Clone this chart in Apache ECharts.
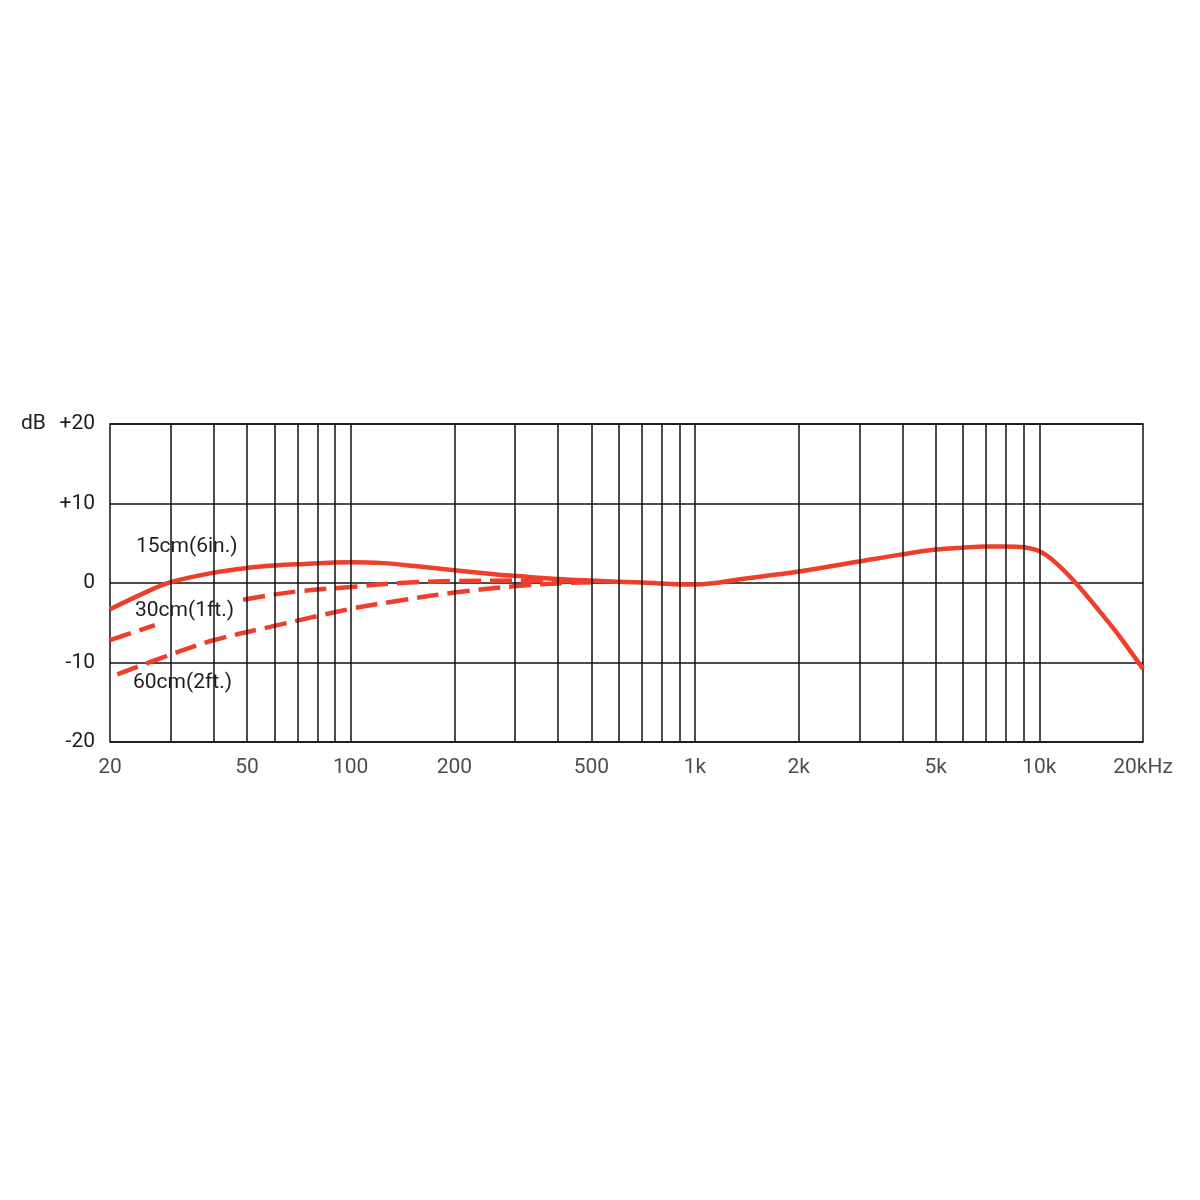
<!DOCTYPE html>
<html><head><meta charset="utf-8">
<script src="https://cdn.jsdelivr.net/npm/echarts@6/dist/echarts.min.js"></script>
<style>html,body{margin:0;padding:0;background:#fff}#c{width:1200px;height:1200px}</style>
</head><body><div id="c"></div>
<script>
// Frequencies (Hz) and response (dB)
const freq15 = [20,25,30,40,50,60,70,100,124,156,200,270,300,400,500,700,1000,1420,2000,3000,4000,5000,6000,7000,8000,9000,10000,10960,12700,15320,17160,20000];
const db15   = [-3.3,-1.3,0.1,1.3,1.9,2.2,2.35,2.6,2.5,2.1,1.6,1.05,0.9,0.5,0.3,0.05,-0.2,0.6,1.45,2.7,3.6,4.2,4.45,4.6,4.6,4.5,4.0,2.85,0.1,-4.1,-6.8,-10.8];
// 30cm curve has a gap where its label sits ('-' = no value)
const freq30 = [20,27,35,48.7,59,72,100,139,200,300,500];
const db30   = [-7.2,-5.3,'-',-2.1,-1.5,-1.0,-0.5,0,0.25,0.3,0.2];
const freq60 = [21,30,40,60,100,139,200,300,400,500];
const db60   = [-11.5,-9.0,-7.2,-5.4,-3.25,-2.2,-1.2,-0.4,-0.05,0.1];
const gridFreqs = [30,40,50,60,70,80,90,100,200,300,400,500,600,700,800,900,1000,2000,3000,4000,5000,6000,7000,8000,9000,10000];
const xTickFreqs = [20,50,100,200,500,1000,2000,5000,10000,20000];
const xTickLabels = ['20','50','100','200','500','1k','2k','5k','10k','20kHz'];
const yTickLabels = {'20':'+20','10':'+10','0':'0','-10':'-10','-20':'-20'};
const curveNames = ['15cm(6in.)','30cm(1ft.)','60cm(2ft.)'];

const RED = '#EE3E2C';
const FONT = 'Roboto';
const TXT = '#1e1e1e';
const zip = (a,b)=>a.map((v,i)=>[v,b[i]]);

const chart = echarts.init(document.getElementById('c'), null, {renderer:'canvas'});
chart.setOption({
  animation:false,
  backgroundColor:'#fff',
  grid:{left:110,right:57,top:424,bottom:458,show:true,borderColor:'#111',borderWidth:1.5,backgroundColor:'transparent'},
  xAxis:{type:'log',logBase:10,min:20,max:20000,
    axisLine:{show:false},axisTick:{show:false},axisLabel:{show:false},splitLine:{show:false},minorSplitLine:{show:false}},
  yAxis:{type:'value',min:-20,max:20,interval:10,
    axisLine:{show:false},axisTick:{show:false},
    axisLabel:{margin:15,fontFamily:FONT,fontSize:21,color:TXT,formatter:v=>yTickLabels[String(v)]},
    splitLine:{show:true,lineStyle:{color:'#111',width:1.5}}},
  graphic:[
    {type:'text',left:21,top:413,z:100,style:{text:'dB',font:'21px '+FONT,fill:TXT}},
    {type:'text',left:136,top:536,z:100,style:{text:curveNames[0],font:'21px '+FONT,fill:TXT}},
    {type:'text',left:135,top:600,z:100,style:{text:curveNames[1],font:'21px '+FONT,fill:TXT}},
    {type:'text',left:133,top:672,z:100,style:{text:curveNames[2],font:'21px '+FONT,fill:TXT}}
  ],
  series:[
    {type:'line',name:'grid',data:[],silent:true,
      markLine:{silent:true,symbol:'none',label:{show:false},lineStyle:{color:'#111',width:1.5,type:'solid'},
        data:gridFreqs.map(f=>({xAxis:f}))}},
    {type:'scatter',name:'xticks',silent:true,symbolSize:0,
      data:xTickFreqs.map((f,i)=>({value:[f,-20],label:{formatter:xTickLabels[i]}})),
      label:{show:true,position:'bottom',distance:15,fontFamily:FONT,fontSize:21,color:TXT}},
    {type:'line',name:curveNames[2],data:zip(freq60,db60),smooth:0.35,showSymbol:false,z:3,
      lineStyle:{color:RED,width:4.5,type:[22,9]}},
    {type:'line',name:curveNames[1],data:zip(freq30,db30),smooth:0.35,showSymbol:false,z:3,connectNulls:false,
      lineStyle:{color:RED,width:4.5,type:[22,9]}},
    {type:'line',name:curveNames[0],data:zip(freq15,db15),smooth:0.35,showSymbol:false,z:4,
      lineStyle:{color:RED,width:4.5}}
  ]
});
</script></body></html>
